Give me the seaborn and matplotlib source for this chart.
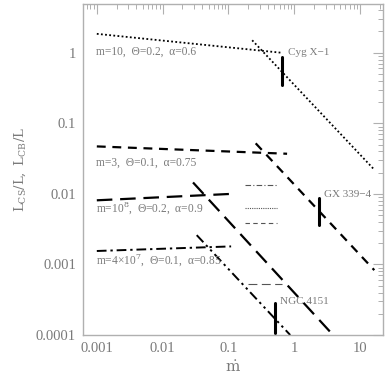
import matplotlib
matplotlib.use("Agg")
import matplotlib.pyplot as plt
import seaborn as sns
import numpy as np
import pandas as pd
from matplotlib.ticker import LogLocator, NullFormatter, FixedLocator, FixedFormatter

# ---- data ----
cyg_flat_x = [0.001, 0.63]
cyg_flat_y = [1.85, 1.0]
cyg_steep_x = [0.23, 16.5]
cyg_steep_y = [1.5, 0.022]

gx_flat_x = [0.001, 0.78]
gx_flat_y = [0.047, 0.037]
gx_steep_x = [0.26, 16.5]
gx_steep_y = [0.052, 0.00083]

m8_flat_x = [0.001, 0.114]
m8_flat_y = [0.0081, 0.0100]
m8_steep_x = [0.029, 3.9]
m8_steep_y = [0.0145, 0.0001]

m47_flat_x = [0.001, 0.11]
m47_flat_y = [0.00155, 0.0018]
m47_steep_x = [0.033, 0.87]
m47_steep_y = [0.0026, 0.0001]

key_x = [0.178, 0.55]
key_dashdot_y = 0.0135
key_dot_y = 0.0063
key_dash_y = 0.0039
key_long_x = [0.2, 0.65]
key_long_y = 0.00053

err_x = [0.66, 2.4, 0.51]
err_lo = [0.35, 0.0036, 0.000107]
err_hi = [0.87, 0.0087, 0.00028]

src_names = ["Cyg X\u22121", "GX 339\u22124", "NGC 4151"]
src_x = [0.81, 2.85, 0.61]
src_y = [1.0, 0.0098, 0.0003]

par_labels = ["m=10,  \u0398=0.2,  \u03b1=0.6",
              "m=3,  \u0398=0.1,  \u03b1=0.75",
              "m=10$^8$,  \u0398=0.2,  \u03b1=0.9",
              "m=4\u00d710$^7$,  \u0398=0.1,  \u03b1=0.85"]
par_y = [1.03, 0.028, 0.0063, 0.00115]

xticks = [0.001, 0.01, 0.1, 1, 10]
xtick_labels = ["0.001", "0.01", "0.1", "1", "10"]
yticks = [0.0001, 0.001, 0.01, 0.1, 1]
ytick_labels = ["0.0001", "0.001", "0.01", "0.1", "1"]

# ---- style ----
sns.set_style("white")
plt.rcParams['font.family'] = ['Liberation Serif', 'DejaVu Serif']
plt.rcParams['mathtext.fontset'] = 'dejavuserif'
gray = "#7a7a7a"
spine_gray = "#b0b0b0"

fig = plt.figure(figsize=(3.92, 3.74), dpi=100)
ax = fig.add_axes([83/392, 39/374, 300/392, 331/374])


def seg(x, y, ls, lw, color="black"):
    df = pd.DataFrame({"x": x, "y": y})
    sns.lineplot(data=df, x="x", y="y", ax=ax, color=color, linestyle=ls,
                 linewidth=lw, sort=False, estimator=None)


dotted = (0, (1, 1.3))
dashed = (0, (4, 3))
longdash = (0, (7, 3.5))
dashdot = (0, (5, 2, 1.2, 2))
dashdotdot = (0, (5, 2, 1.2, 2, 1.2, 2))

seg(cyg_flat_x, cyg_flat_y, dotted, 1.3)
seg(cyg_steep_x, cyg_steep_y, dotted, 1.3)
seg(gx_flat_x, gx_flat_y, dashed, 1.6)
seg(gx_steep_x, gx_steep_y, dashed, 1.6)
seg(m8_flat_x, m8_flat_y, longdash, 1.6)
seg(m8_steep_x, m8_steep_y, longdash, 1.6)
seg(m47_flat_x, m47_flat_y, dashdot, 1.4)
seg(m47_steep_x, m47_steep_y, dashdotdot, 1.4)

# key-like short segments
seg(key_x, [key_dashdot_y] * 2, (0, (5, 2, 1, 2)), 0.8, "#555555")
seg(key_x, [key_dot_y] * 2, (0, (1, 1)), 0.8, "#555555")
seg(key_x, [key_dash_y] * 2, (0, (4, 3)), 0.8, "#555555")
seg(key_long_x, [key_long_y] * 2, (0, (8, 4)), 0.8, "#555555")

# observational error bars
for x, lo, hi in zip(err_x, err_lo, err_hi):
    seg([x, x], [lo, hi], "-", 2.2)

for name, x, y in zip(src_names, src_x, src_y):
    ax.text(x, y, name, fontsize=8, color=gray, va="center", ha="left")

for lab, y in zip(par_labels, par_y):
    ax.text(0.00097, y, lab, fontsize=8.3, color=gray, va="center", ha="left")

ax.set_xscale("log")
ax.set_yscale("log")
ax.set_xlim(10**-3.21, 10**1.35)
ax.set_ylim(1e-4, 10**0.69)

ax.xaxis.set_major_locator(FixedLocator(xticks))
ax.xaxis.set_major_formatter(FixedFormatter(xtick_labels))
ax.yaxis.set_major_locator(FixedLocator(yticks))
ax.yaxis.set_major_formatter(FixedFormatter(ytick_labels))
ax.xaxis.set_minor_locator(LogLocator(base=10, subs=np.arange(2, 10)))
ax.yaxis.set_minor_locator(LogLocator(base=10, subs=np.arange(2, 10)))
ax.xaxis.set_minor_formatter(NullFormatter())
ax.yaxis.set_minor_formatter(NullFormatter())

ax.tick_params(which="both", direction="in", top=True, right=True,
               color=spine_gray, labelcolor=gray, labelsize=10.5)
ax.tick_params(which="major", length=7, width=0.8, pad=5)
ax.tick_params(which="minor", length=3.5, width=0.7)
for s in ax.spines.values():
    s.set_color(spine_gray)
    s.set_linewidth(1.0)

ax.set_xlabel(r"$\dot{\rm m}$", color=gray, fontsize=11, labelpad=3)
ax.set_ylabel(r"$\rm L_{CS}/L,\ L_{CB}/L$", color=gray, fontsize=9.5, labelpad=6)

fig.savefig("out.png", dpi=100)
